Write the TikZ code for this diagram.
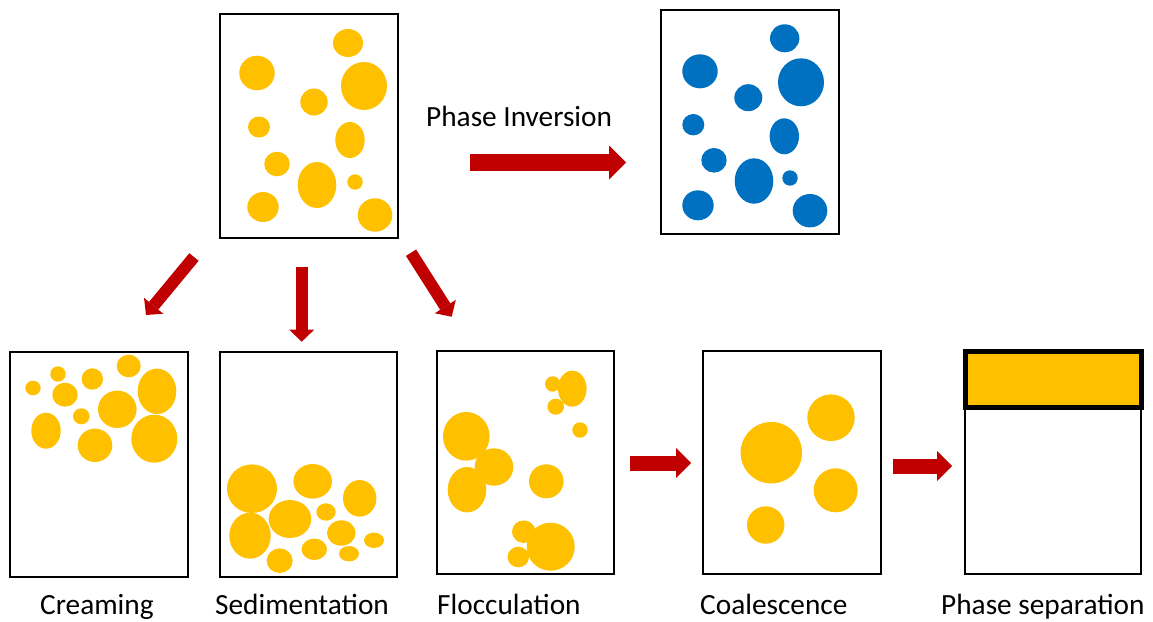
\documentclass[tikz,border=0pt]{standalone}
\usepackage{fontspec}
\setmainfont{Carlito}
\usetikzlibrary{arrows.meta}
\definecolor{drop}{HTML}{FFC000}
\definecolor{bluedrop}{HTML}{0070C0}
\definecolor{arrowred}{HTML}{C00000}
\newcommand{\blob}[4]{\fill (#1,#2) ellipse [x radius=#3pt, y radius=#4pt];}
\tikzset{
  box/.style={draw=black, line width=2.8pt, fill=none, inner sep=0pt, outer sep=0pt, rectangle},
  lbl/.style={font=\fontsize{29.3}{33}\selectfont, text=black, inner sep=0pt, anchor=base west},
  bigarrow/.style={draw=arrowred, line width=15pt, -{Triangle[length=15pt, width=30pt, line width=0pt]}},
  smallarrow/.style={draw=arrowred, line width=12pt, -{Triangle[length=12pt, width=25pt, line width=0pt]}},
  piarrow/.style={draw=arrowred, line width=17pt, -{Triangle[length=17pt, width=34pt, line width=0pt]}}
}
\begin{document}
\begin{tikzpicture}[x=1pt, y=-1pt]
\useasboundingbox (0,0) rectangle (1153,621);
\fill[white] (0,0) rectangle (1153,621);

% ---- boxes ----
\node[box, minimum width=178pt, minimum height=224pt] (top) at (309,126) {};
\node[box, minimum width=178pt, minimum height=224pt] (inv) at (750,122) {};
\node[box, minimum width=178pt, minimum height=225pt] (cream) at (99,464.5) {};
\node[box, minimum width=177pt, minimum height=225pt] (sed) at (308.5,464.5) {};
\node[box, minimum width=177pt, minimum height=223pt] (floc) at (525.5,462.5) {};
\node[box, minimum width=178pt, minimum height=223pt] (coal) at (792,462.5) {};
\node[box, minimum width=176pt, minimum height=223pt] (sep) at (1053,462.5) {};
\node[box, line width=5pt, fill=drop, minimum width=176pt, minimum height=56pt, anchor=north] (oil) at (1053,351) {};

% ---- top box droplets ----
\begin{scope}[fill=drop]
\blob{348}{43}{15}{14}
\blob{257}{73}{17.7}{17.3}
\blob{364}{86}{23}{24}
\blob{314}{102}{13.7}{13.5}
\blob{259}{127}{11}{10.5}
\blob{350}{140}{14.7}{18}
\blob{277}{164}{12.7}{12.3}
\blob{317}{185}{19.3}{23}
\blob{355}{182}{7.7}{7.7}
\blob{263}{207}{15.7}{15}
\blob{375}{215}{17.3}{16.7}
\end{scope}

% ---- inverted (blue) droplets ----
\begin{scope}[fill=bluedrop]
\blob{784.7}{38.3}{14.7}{14}
\blob{700}{71.3}{17.7}{17}
\blob{801}{82.3}{23}{24}
\blob{748.3}{97.7}{14}{13.5}
\blob{693.3}{124.7}{11}{10.7}
\blob{784.3}{136.3}{14.7}{18}
\blob{714}{160.3}{12.7}{12.3}
\blob{754}{181}{19.3}{22.7}
\blob{790}{178}{7.7}{7.7}
\blob{698}{205.3}{15.7}{15}
\blob{810}{210.7}{17.3}{16.7}
\end{scope}

% ---- creaming ----
\begin{scope}[fill=drop]
\blob{128.7}{366}{12}{11.3}
\blob{58}{374}{7.7}{7.7}
\blob{92.3}{379}{10.7}{10.7}
\blob{33}{388}{7.7}{7.3}
\blob{65}{394.7}{12.7}{12}
\blob{157}{391.3}{19.3}{22.7}
\blob{117.3}{409.3}{19.3}{18.7}
\blob{81.3}{416.3}{8.3}{8}
\blob{46}{430.7}{14.7}{18}
\blob{95}{445.3}{17.3}{16.7}
\blob{154.3}{438.7}{23}{24}
\end{scope}

% ---- sedimentation ----
\begin{scope}[fill=drop]
\blob{252}{488.7}{25}{24.3}
\blob{312.7}{481.3}{19.3}{17.3}
\blob{359.7}{498.3}{16.7}{18.3}
\blob{250}{535.7}{20.7}{23}
\blob{290}{519}{21.3}{19}
\blob{326}{512}{9.7}{8.7}
\blob{341.3}{533}{14.3}{12.7}
\blob{374}{540.3}{10}{7.7}
\blob{314.3}{549.3}{12.7}{10.7}
\blob{349}{553.7}{10}{7.7}
\blob{279.7}{560.7}{13}{12.3}
\end{scope}

% ---- flocculation ----
\begin{scope}[fill=drop]
\blob{572.3}{388.7}{14.3}{18}
\blob{552.7}{384}{7.7}{7.7}
\blob{555.7}{406.7}{8.3}{8}
\blob{580}{430}{7.7}{7.7}
\blob{466.3}{436.3}{23.3}{24.3}
\blob{494}{467}{19.3}{18.7}
\blob{467}{489.7}{19.3}{22.7}
\blob{546.3}{481.3}{17.3}{17}
\blob{523.7}{531.7}{11.7}{11.3}
\blob{550.7}{546.7}{24}{24}
\blob{518.3}{557}{10.7}{10.3}
\end{scope}

% ---- coalescence ----
\begin{scope}[fill=drop]
\blob{831}{417.7}{23.7}{23.3}
\blob{771.3}{452.7}{30.7}{30.7}
\blob{835.7}{490.3}{22}{22}
\blob{765.7}{525}{18.7}{18.7}
\end{scope}

% ---- arrows ----
\coordinate (pi-s) at (470,162.5);
\coordinate (pi-e) at (626,162.5);
\coordinate (cr-s) at (194,257);
\coordinate (cr-e) at (146,315);
\coordinate (sd-s) at (301.7,266.7);
\coordinate (sd-e) at (301.7,341.7);
\coordinate (fl-s) at (411,252.7);
\coordinate (fl-e) at (451.7,316.7);
\draw[piarrow] (pi-s) -- (pi-e);
\draw[smallarrow] (cr-s) -- (cr-e);
\draw[smallarrow] (sd-s) -- (sd-e);
\draw[smallarrow] (fl-s) -- (fl-e);
\draw[bigarrow] ([xshift=16pt]floc.east |- 0,463) -- ([xshift=-12pt]coal.west |- 0,463);
\draw[bigarrow] ([xshift=12pt]coal.east |- 0,466) -- ([xshift=-13pt]sep.west |- 0,466);

% ---- labels ----
\node[lbl] (lpi) at (426,126) {Phase Inversion};
\node[lbl] (lcr) at (40,614) {Creaming};
\node[lbl] (lsd) at (215,614) {Sedimentation};
\node[lbl] (lfl) at (437,614) {Flocculation};
\node[lbl] (lco) at (700,614) {Coalescence};
\node[lbl] (lps) at (941,614) {Phase separation};
\end{tikzpicture}
\end{document}
